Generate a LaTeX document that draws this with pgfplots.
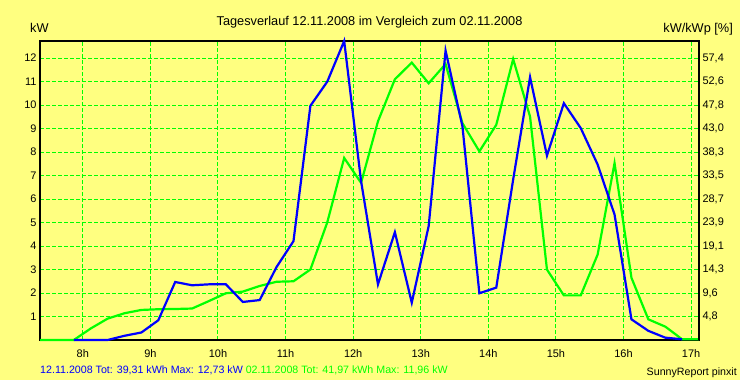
\documentclass[border=0pt]{standalone}
\usepackage{pgfplots}
\pgfplotsset{compat=1.18}
\usepackage{fontspec}
\setmainfont{Liberation Sans}
\definecolor{bgy}{RGB}{255,255,128}
\definecolor{pg}{RGB}{0,255,0}
\definecolor{pb}{RGB}{0,0,255}
\begin{document}
\begin{tikzpicture}[x=1bp,y=1bp]
\fill[bgy] (0,0) rectangle (740,380);
\path[use as bounding box] (0,0) rectangle (740,380);
\begin{axis}[
  at={(40bp,40bp)}, anchor=south west,
  scale only axis, width=659bp, height=299bp,
  xmin=7.3667, xmax=17.1167, ymin=0, ymax=12.73,
  clip=false,
  xtick={8,9,10,11,12,13,14,15,16,17},
  xticklabels={8h,9h,10h,11h,12h,13h,14h,15h,16h,17h},
  ytick={1,2,3,4,5,6,7,8,9,10,11,12},
  yticklabels={1,2,3,4,5,6,7,8,9,10,11,12},
  major tick length=0pt,
  grid=major,
  major grid style={pg, line width=1bp, dash pattern=on 4bp off 2bp},
  axis line style={black, line width=1.5bp},
  ticklabel style={font=\fontsize{11}{13}\selectfont},
  xticklabel style={anchor=base, yshift=-17bp},
]
\addplot[pg, line width=2.2bp] table {
x y
7.367 0
7.617 0
7.867 0
8.117 0.49
8.367 0.91
8.617 1.14
8.867 1.28
9.117 1.31
9.367 1.32
9.617 1.34
9.867 1.66
10.117 1.99
10.367 2.06
10.617 2.30
10.867 2.48
11.117 2.50
11.367 3.00
11.617 5.01
11.867 7.75
12.117 6.69
12.367 9.31
12.617 11.10
12.867 11.81
13.117 10.93
13.367 11.75
13.617 9.23
13.867 8.03
14.117 9.16
14.367 11.96
14.617 9.51
14.867 3.00
15.117 1.90
15.367 1.90
15.617 3.64
15.867 7.53
16.117 2.65
16.367 0.88
16.617 0.57
16.867 0.03
17.117 0.03
};
\addplot[pb, line width=2.2bp] table {
x y
7.867 0
8.117 0
8.367 0
8.617 0.18
8.867 0.32
9.117 0.84
9.367 2.47
9.617 2.33
9.867 2.37
10.117 2.37
10.367 1.62
10.617 1.70
10.867 3.11
11.117 4.21
11.367 9.97
11.617 11.00
11.867 12.73
12.117 6.76
12.367 2.37
12.617 4.59
12.867 1.59
13.117 4.85
13.367 12.32
13.617 9.09
13.867 1.99
14.117 2.23
14.367 6.83
14.617 11.19
14.867 7.85
15.117 10.08
15.367 9.02
15.617 7.47
15.867 5.34
16.117 0.88
16.367 0.39
16.617 0.10
16.867 0.03
};
\end{axis}
\begin{axis}[
  at={(40bp,40bp)}, anchor=south west,
  scale only axis, width=659bp, height=299bp,
  xmin=7.3667, xmax=17.1167, ymin=0, ymax=12.73,
  axis x line=none, axis y line*=right,
  ytick={1,2,3,4,5,6,7,8,9,10,11,12},
  yticklabels={{4,8},{9,6},{14,3},{19,1},{23,9},{28,7},{33,5},{38,3},{43,0},{47,8},{52,6},{57,4}},
  major tick length=0pt,
  axis line style={black, line width=1.5bp},
  ticklabel style={font=\fontsize{11}{13}\selectfont},
]
\end{axis}
\node[anchor=base, inner sep=0pt, font=\fontsize{12.8}{15}\selectfont] at (369.5,355) {Tagesverlauf 12.11.2008 im Vergleich zum 02.11.2008};
\node[anchor=base west, inner sep=0pt, font=\fontsize{12.8}{15}\selectfont] at (30,348) {kW};
\node[anchor=base east, inner sep=0pt, font=\fontsize{12.8}{15}\selectfont] at (733,348) {kW/kWp [\%]};
\node[anchor=base west, inner sep=0pt, font=\fontsize{10.7}{13}\selectfont] at (40,7) {\textcolor{pb}{12.11.2008 Tot: 39,31 kWh Max: 12,73 kW} \textcolor{pg}{02.11.2008 Tot: 41,97 kWh Max: 11,96 kW}};
\node[anchor=base east, inner sep=0pt, font=\fontsize{10.7}{13}\selectfont] at (737,5) {SunnyReport pinxit};
\end{tikzpicture}
\end{document}
